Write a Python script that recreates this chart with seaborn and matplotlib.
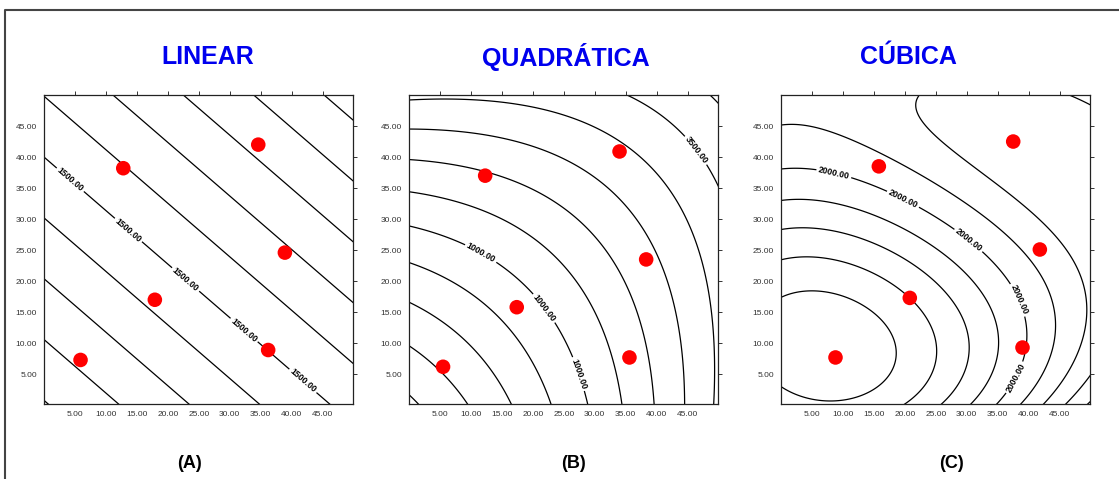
import numpy as np
import pandas as pd
import matplotlib
matplotlib.use("Agg")
import matplotlib.pyplot as plt
import seaborn as sns
from matplotlib.lines import Line2D

# ---------------- data ----------------
titles = ["LINEAR", "QUADRÁTICA", "CÚBICA"]
captions = ["(A)", "(B)", "(C)"]
ticks = [5, 10, 15, 20, 25, 30, 35, 40, 45]

# design points (red dots)
pts_A_x = [5.9, 12.8, 17.9, 34.6, 38.9, 36.2]
pts_A_y = [7.3, 38.2, 17.0, 42.0, 24.6, 8.9]
pts_B_x = [5.5, 12.3, 17.4, 34.0, 38.3, 35.6]
pts_B_y = [6.2, 37.0, 15.8, 40.9, 23.5, 7.7]
pts_C_x = [8.8, 15.8, 20.8, 37.5, 41.8, 39.0]
pts_C_y = [7.7, 38.5, 17.3, 42.5, 25.1, 9.3]

# (A) linear model  z = b0 + b1*x + b2*y
lin_coef = [1092.0, 8.8, 10.2]
lin_levels = [1100, 1200, 1300, 1400, 1500, 1600, 1700, 1800, 1900, 2000]
lin_label_levels = [1500]
lin_label_pos = [(4.3, 36.4), (13.6, 28.2), (22.9, 20.3), (32.3, 12.1), (41.7, 3.8)]

# (B) quadratic model  z = b0 + b1*x + b2*y + b11*x^2 + b22*y^2 + b12*x*y
quad_coef = [-1099.0, 57.42, 57.42, 0.5265, 0.5265, -1.285]
quad_levels = [-1000, -500, 0, 500, 1000, 1500, 2000, 2500, 3000, 3500, 4000]
quad_label_levels = [1000, 3500]
quad_label_pos = [(12.0, 25.2), (21.9, 15.7), (27.0, 4.9), (46.1, 40.9)]

# (C) cubic surface: contour traces (one list per level)
cub_levels = [1000, 1250, 1500, 1750, 2000, 2250, 2500, 2750, 3000]
cub_fit_weight = [1, 1, 1, 1, 1, 1, 1.5, 2, 2]
cub_trace_x = [
    [0, 4.1, 12.2, 16.5, 18.3, 18.6, 15.9, 13.8, 9.5, 4.1, 0],
    [0, 5.2, 12.2, 17.5, 20.8, 24.5, 25.3, 23.5, 20.0],
    [0, 12.2, 19.1, 24.5, 29.4, 30.4, 28.8, 25.6],
    [0, 12.2, 20.2, 26.7, 31.5, 34.2, 34.9, 33.7, 30.5],
    [0, 8.5, 19.8, 30.3, 34.2, 38.4, 39.6, 39.0, 38.0, 34.5],
    [0, 5.0, 10.0, 15.9, 21.0, 26.7, 32.0, 37.4, 41.2, 44.4, 43.8, 41.7, 38.8],
    [22.6, 21.8, 22.9, 26.7, 32.0, 37.4, 41.7, 46.0, 48.2, 49.3, 48.8, 47.6, 45.3, 42.3,
     46.6, 48.3, 49.9],
    [49.9, 48.0, 46.2],
    [49.3, 49.9],
]
cub_trace_y = [
    [17.5, 18.6, 17.0, 13.7, 12.1, 8.9, 3.6, 1.7, 0.4, 1.1, 3.6],
    [23.7, 24.1, 22.3, 18.6, 17.3, 12.1, 7.8, 3.6, 0.2],
    [28.3, 27.2, 23.4, 19.1, 12.1, 7.3, 3.6, 0.2],
    [33.0, 31.7, 28.8, 24.5, 19.1, 12.1, 6.8, 3.0, 0.2],
    [37.9, 37.2, 33.4, 26.6, 23.9, 17.0, 12.1, 9.2, 4.4, 0.2],
    [45.1, 44.8, 43.3, 40.8, 38.2, 35.2, 31.8, 28.2, 21.8, 16.5, 10.0, 3.6, 0.2],
    [50.0, 48.1, 45.4, 41.7, 37.4, 33.1, 29.3, 25.0, 21.8, 16.5, 12.0, 7.8, 3.5, 0.2,
     50.0, 49.2, 48.4],
    [4.2, 2.2, 0.2],
    [0.2, 0.9],
]
cub_label_levels = [2000]
cub_label_pos = [(8.5, 37.2), (19.8, 33.4), (30.3, 26.6), (38.4, 17.0), (37.9, 4.4)]

# ---------------- styling ----------------
sns.set_theme(style="white")
plt.rcParams["font.family"] = ["Liberation Sans", "DejaVu Sans"]

W, H = 1119, 479
fig = plt.figure(figsize=(W / 100, H / 100), dpi=100)

ax_left_px = [44, 409, 781]
ax_size_px = 309
ax_top_px = 95

grid = np.linspace(0, 50, 401)
GX, GY = np.meshgrid(grid, grid)


def cubic_terms(x, y):
    u = np.asarray(x, float) / 50.0
    v = np.asarray(y, float) / 50.0
    return np.stack([np.ones_like(u), u, v, u * u, u * v, v * v,
                     u ** 3, u * u * v, u * v * v, v ** 3], axis=-1)


# surfaces
Z_A = lin_coef[0] + lin_coef[1] * GX + lin_coef[2] * GY
b = quad_coef
Z_B = b[0] + b[1] * GX + b[2] * GY + b[3] * GX ** 2 + b[4] * GY ** 2 + b[5] * GX * GY
fx = np.concatenate(cub_trace_x)
fy = np.concatenate(cub_trace_y)
fz = np.concatenate([[lev] * len(tx) for lev, tx in zip(cub_levels, cub_trace_x)])
fw = np.concatenate([[w] * len(tx) for w, tx in zip(cub_fit_weight, cub_trace_x)])
A_mat = cubic_terms(fx, fy) * fw[:, None]
cub_coef, *_ = np.linalg.lstsq(A_mat, fz * fw, rcond=None)
Z_C = cubic_terms(GX, GY) @ cub_coef

panels = [
    (Z_A, lin_levels, lin_label_levels, lin_label_pos, pts_A_x, pts_A_y),
    (Z_B, quad_levels, quad_label_levels, quad_label_pos, pts_B_x, pts_B_y),
    (Z_C, cub_levels, cub_label_levels, cub_label_pos, pts_C_x, pts_C_y),
]

title_cx = [208, 566, 908]
caption_cx = [190, 573, 952]

for i, (Z, levels, lab_levels, lab_pos, px, py) in enumerate(panels):
    ax = fig.add_axes([ax_left_px[i] / W, 1 - (ax_top_px + ax_size_px) / H,
                       ax_size_px / W, ax_size_px / H])
    plain_levels = [lv for lv in levels if lv not in lab_levels]
    ax.contour(GX, GY, Z, levels=plain_levels, colors="black",
               linewidths=0.9, linestyles="solid")
    cs_lab = ax.contour(GX, GY, Z, levels=lab_levels, colors="black",
                        linewidths=0.9, linestyles="solid")
    texts = ax.clabel(cs_lab, manual=lab_pos, fmt="%.2f",
                      fontsize=6.3, inline=True, inline_spacing=2)
    for t in texts:
        t.set_fontweight("bold")
    df = pd.DataFrame({"x": px, "y": py})
    sns.scatterplot(data=df, x="x", y="y", ax=ax, color="#FF0000", s=110,
                    edgecolor="none", linewidth=0, zorder=5, legend=False)
    ax.set_xlabel("")
    ax.set_ylabel("")
    ax.set_xlim(0, 49.9)
    ax.set_ylim(0.2, 50)
    ax.set_xticks(ticks)
    ax.set_yticks(ticks)
    ax.set_xticklabels([f"{t:.2f}" for t in ticks])
    ax.set_yticklabels([f"{t:.2f}" for t in ticks])
    ax.tick_params(direction="out", length=3, width=0.7, top=True, right=True,
                   labeltop=False, labelright=False, labelsize=6,
                   labelcolor="#333333", color="#333333", pad=2)
    for sp in ax.spines.values():
        sp.set_color("#222222")
        sp.set_linewidth(0.9)
    ax.set_facecolor("white")

    fig.text(title_cx[i] / W, 1 - 57 / H, titles[i], ha="center", va="center",
             color="#0000EE", fontsize=18, fontweight="bold")
    fig.text(caption_cx[i] / W, 1 - 463 / H, captions[i], ha="center", va="center",
             color="black", fontsize=13, fontweight="bold")

# partial outer frame (left and top)
fig.add_artist(Line2D([5 / W, 5 / W, 1.0], [0.0, 1 - 10 / H, 1 - 10 / H],
                      transform=fig.transFigure, color="#444444", linewidth=1.5))

fig.savefig("out.png", dpi=100, facecolor="white")
